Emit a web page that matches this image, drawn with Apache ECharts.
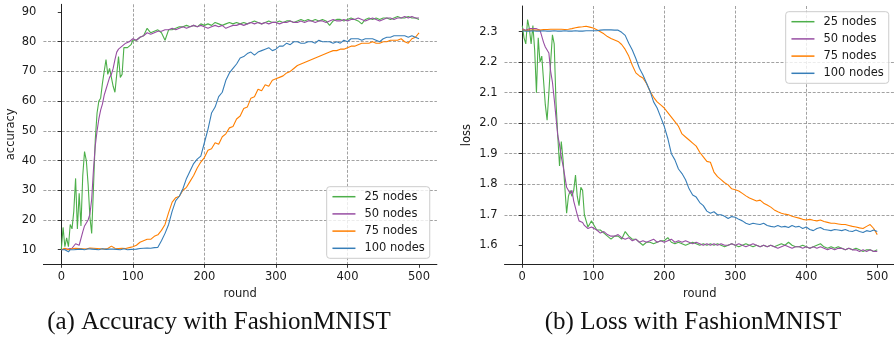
<!DOCTYPE html>
<html>
<head>
<meta charset="utf-8">
<script src="https://cdn.jsdelivr.net/npm/echarts@6/dist/echarts.min.js"></script>
<style>
  html, body { margin: 0; padding: 0; background: #fff; }
  #chart { width: 894px; height: 340px; }
</style>
</head>
<body>
<div id="chart"></div>
<script>
// rounds: finer steps in the first 100 rounds, then every 5
const rounds = [
  0, 2.5, 5, 7.5, 10, 12.5, 15, 17.5, 20, 22.5, 25, 27.5, 30, 32.5, 35, 37.5, 40, 42.5, 45, 47.5,
  50, 52.5, 55, 57.5, 60, 62.5, 65, 67.5, 70, 72.5, 75, 77.5, 80, 82.5, 85, 87.5, 90, 92.5, 95, 97.5, 100,
  105, 110, 115, 120, 125, 130, 135, 140, 145, 150, 155, 160, 165, 170, 175, 180, 185, 190, 195,
  200, 205, 210, 215, 220, 225, 230, 235, 240, 245, 250, 255, 260, 265, 270, 275, 280, 285, 290, 295,
  300, 305, 310, 315, 320, 325, 330, 335, 340, 345, 350, 355, 360, 365, 370, 375, 380, 385, 390, 395,
  400, 405, 410, 415, 420, 425, 430, 435, 440, 445, 450, 455, 460, 465, 470, 475, 480, 485, 490, 495,
  500
];
const seriesNames = ['25 nodes', '50 nodes', '75 nodes', '100 nodes'];
const colors = ['#4daf4a', '#984ea3', '#ff7f00', '#377eb8'];

// accuracy (a)
const acc25 = [
  10, 17.5, 11, 14, 11, 18.5, 17, 23, 34, 17, 29, 18, 35, 43, 40, 32, 21, 15.5, 31, 47,
  56, 60, 61, 66, 70, 74, 69, 71, 68, 65, 63, 69, 75, 68, 69, 78, 77.5, 78, 77.5, 79, 80.5,
  80.5, 81.5, 82, 84.5, 83, 83.5, 84, 83, 80.5, 84, 84, 84.5, 85, 85, 85.5, 85, 85.5, 85, 86,
  85.5, 86, 85.5, 86.5, 86, 85.5, 86, 86.5, 86, 86.5, 86, 86.5, 86, 86.5, 87, 86.5, 86, 86.5, 87, 86.5,
  86.5, 87, 86.5, 87, 87, 86.5, 87, 87.5, 87, 87.5, 87, 87.5, 87, 87.5, 87, 85.5, 87, 87.5, 87.5, 87,
  87.5, 88, 87.5, 87, 86, 87.5, 88, 87.5, 88, 87.5, 88, 88, 87.5, 88, 88.5, 88, 88, 88.5, 88, 88,
  87.5
];
const acc50 = [
  10, 10, 10.2, 10, 10.3, 10, 10.5, 10.5, 12, 12, 11.5, 12, 16, 18, 17.5, 20, 22, 27, 37, 45,
  50, 54, 57, 59, 62, 64, 66, 68, 69, 71, 74, 76.5, 77.5, 78, 78.5, 79, 79.5, 80, 80, 80.5, 81,
  80.5, 81.5, 82, 83, 82.5, 83, 83.5, 83.5, 84, 84, 84.5, 84, 84.5, 85, 84.5, 85, 85.5, 85, 85.5,
  85, 84.5, 85, 85.5, 85, 85.5, 84.5, 85, 85.5, 85.5, 86, 85.5, 86, 86.5, 86, 86.5, 86, 86.5, 86, 86.5,
  86.5, 86, 86.5, 86.5, 87, 86.5, 86.5, 87, 86.5, 87, 87, 86.5, 87, 87, 86.5, 87, 87.5, 87, 87, 87.5,
  87, 87.5, 87.5, 88, 87.5, 87, 87.5, 88, 87.5, 87, 87.5, 88, 88, 87.5, 88, 88, 88.5, 88, 88.5, 88,
  88
];
const acc75 = [
  10, 10.3, 10.5, 10.2, 10, 10.6, 10.3, 10.1, 10.5, 10.2, 10.4, 10.8, 10.3, 10.5, 10.2, 10.4, 10.6, 10.3, 10.5, 10.2,
  10.4, 10.7, 10.3, 10.5, 10.2, 10.6, 10.4, 10.3, 11.2, 10.6, 10.5, 10.3, 10.4, 10.2, 10.5, 10.6, 10.4, 10.5, 10.7, 10.6, 11,
  11.5, 12.5, 13, 13.5, 13.5, 14.5, 15, 16.5, 18.5, 22.5, 26, 27.5, 28, 30, 31, 33, 35, 37.5, 39.5,
  41, 43.5, 44, 46, 45.5, 48, 49, 51, 51.5, 54, 55, 57.5, 58, 61, 61.5, 64, 63.5, 65.5, 65, 67,
  67.5, 68, 68.5, 69.5, 70, 71, 72, 72.5, 73, 73.5, 74, 74.5, 75, 75.5, 76, 76.5, 77, 77, 77.5, 77.5,
  78, 78.5, 78.5, 79, 79.5, 79.5, 79.5, 80, 79.5, 79.5, 80, 80, 80.5, 80.5, 80.5, 81, 80, 79.5, 81, 81.5,
  83
];
const acc100 = [
  10, 10.2, 10, 9.8, 9.3, 10, 10.2, 10, 10.3, 10.1, 10, 10.2, 10.4, 10, 10.1, 10.3, 10.5, 10.2, 10, 10.1,
  10.2, 10, 10.1, 10.3, 10.4, 10.1, 10, 10.2, 10.6, 10.2, 10, 10.1, 10.2, 10, 10.1, 10.3, 10.1, 10, 10.2, 10.1, 10.3,
  10.2, 10.4, 10.5, 10.6, 10.5, 10.7, 10.8, 13, 15.5, 18.5, 23, 26.5, 28, 30.5, 34, 36.5, 39, 40.5, 41.5,
  46, 50.5, 56, 58, 61.5, 63, 67, 69.5, 71, 72.5, 74.5, 75, 76, 76.5, 75.5, 76.5, 77, 77.5, 78, 77,
  77.5, 78.5, 78.5, 79.5, 79, 80, 80, 79.5, 79.5, 80, 80, 79.5, 80.5, 80, 80, 80, 79.5, 80, 79.5, 80.5,
  80, 81, 81, 81, 80.5, 81, 81, 81, 80.5, 80, 81, 81.5, 81.5, 82, 82, 82, 82, 81.5, 82, 81.5,
  81
];

// loss (b)
const loss25 = [
  2.32, 2.28, 2.26, 2.34, 2.31, 2.26, 2.32, 2.24, 2.10, 2.28, 2.20, 2.22, 2.14, 2.06, 2.01, 2.10, 2.20, 2.29, 2.26, 2.07,
  1.96, 1.86, 1.94, 1.88, 1.79, 1.705, 1.76, 1.78, 1.76, 1.78, 1.83, 1.76, 1.73, 1.79, 1.78, 1.70, 1.68, 1.66, 1.67, 1.68, 1.67,
  1.65, 1.65, 1.64, 1.63, 1.62, 1.63, 1.63, 1.62, 1.645, 1.63, 1.62, 1.62, 1.61, 1.60, 1.61, 1.61, 1.605, 1.61, 1.615,
  1.615, 1.625, 1.61, 1.605, 1.61, 1.605, 1.60, 1.605, 1.61, 1.605, 1.60, 1.605, 1.60, 1.605, 1.60, 1.605, 1.60, 1.595, 1.60, 1.605,
  1.60, 1.595, 1.60, 1.605, 1.60, 1.595, 1.60, 1.595, 1.60, 1.595, 1.60, 1.595, 1.60, 1.605, 1.60, 1.61, 1.60, 1.595, 1.595, 1.60,
  1.595, 1.59, 1.595, 1.60, 1.605, 1.595, 1.59, 1.595, 1.59, 1.595, 1.59, 1.585, 1.59, 1.585, 1.59, 1.585, 1.58, 1.585, 1.585, 1.58,
  1.585
];
const loss50 = [
  2.31, 2.31, 2.305, 2.31, 2.31, 2.305, 2.31, 2.305, 2.31, 2.31, 2.305, 2.31, 2.265, 2.25, 2.245, 2.23, 2.17, 2.135, 2.08, 2.02,
  1.96, 1.93, 1.89, 1.86, 1.825, 1.79, 1.79, 1.77, 1.78, 1.745, 1.745, 1.70, 1.68, 1.675, 1.675, 1.665, 1.66, 1.655, 1.655, 1.66, 1.655,
  1.65, 1.64, 1.645, 1.635, 1.63, 1.63, 1.635, 1.625, 1.62, 1.625, 1.615, 1.62, 1.61, 1.615, 1.61, 1.615, 1.62, 1.61, 1.615,
  1.61, 1.615, 1.62, 1.61, 1.615, 1.61, 1.615, 1.61, 1.605, 1.61, 1.605, 1.60, 1.605, 1.60, 1.605, 1.60, 1.605, 1.60, 1.60, 1.605,
  1.60, 1.605, 1.60, 1.595, 1.60, 1.605, 1.60, 1.595, 1.60, 1.595, 1.60, 1.595, 1.59, 1.595, 1.60, 1.595, 1.59, 1.595, 1.595, 1.59,
  1.595, 1.59, 1.595, 1.59, 1.595, 1.59, 1.585, 1.59, 1.585, 1.59, 1.59, 1.585, 1.59, 1.585, 1.585, 1.58, 1.585, 1.58, 1.585, 1.58,
  1.58
];
const loss75 = [
  2.305, 2.306, 2.304, 2.306, 2.305, 2.307, 2.305, 2.306, 2.305, 2.307, 2.305, 2.306, 2.307, 2.308, 2.307, 2.306, 2.308, 2.307, 2.308, 2.307,
  2.308, 2.307, 2.308, 2.309, 2.307, 2.306, 2.308, 2.309, 2.31, 2.311, 2.313, 2.314, 2.315, 2.316, 2.316, 2.317, 2.318, 2.316, 2.315, 2.314, 2.312,
  2.306, 2.30, 2.293, 2.284, 2.278, 2.273, 2.268, 2.258, 2.242, 2.22, 2.19, 2.165, 2.155, 2.148, 2.13, 2.105, 2.085, 2.07, 2.06,
  2.05, 2.035, 2.02, 2.005, 1.99, 1.965, 1.955, 1.945, 1.935, 1.925, 1.905, 1.89, 1.875, 1.872, 1.84, 1.825, 1.815, 1.805, 1.798, 1.785,
  1.782, 1.778, 1.77, 1.762, 1.755, 1.75, 1.745, 1.748, 1.738, 1.732, 1.725, 1.716, 1.71, 1.705, 1.702, 1.70, 1.695, 1.692, 1.689, 1.685,
  1.683, 1.685, 1.682, 1.68, 1.683, 1.678, 1.675, 1.672, 1.672, 1.67, 1.668, 1.668, 1.665, 1.662, 1.66, 1.657, 1.655, 1.662, 1.668, 1.655,
  1.635
];
const loss100 = [
  2.303, 2.302, 2.302, 2.303, 2.302, 2.302, 2.303, 2.302, 2.302, 2.303, 2.302, 2.302, 2.303, 2.302, 2.302, 2.303, 2.302, 2.302, 2.303, 2.302,
  2.302, 2.303, 2.302, 2.302, 2.303, 2.302, 2.302, 2.303, 2.302, 2.302, 2.303, 2.302, 2.302, 2.303, 2.302, 2.303, 2.303, 2.302, 2.303, 2.303, 2.303,
  2.303, 2.305, 2.306, 2.306, 2.306, 2.305, 2.305, 2.298, 2.288, 2.262, 2.24, 2.212, 2.18, 2.158, 2.132, 2.105, 2.07, 2.05, 2.02,
  1.99, 1.95, 1.90, 1.88, 1.85, 1.835, 1.815, 1.785, 1.765, 1.758, 1.74, 1.73, 1.712, 1.705, 1.71, 1.70, 1.70, 1.695, 1.688, 1.694,
  1.692, 1.685, 1.68, 1.672, 1.668, 1.672, 1.67, 1.668, 1.672, 1.665, 1.662, 1.66, 1.665, 1.66, 1.662, 1.658, 1.665, 1.66, 1.662, 1.655,
  1.66, 1.652, 1.648, 1.655, 1.658, 1.652, 1.65, 1.648, 1.652, 1.65, 1.648, 1.652, 1.647, 1.645, 1.65, 1.645, 1.642, 1.648, 1.645, 1.65,
  1.645
];

const roundTicks = [0, 100, 200, 300, 400, 500];
const accTicks = [10, 20, 30, 40, 50, 60, 70, 80, 90];
const lossTicks = [1.6, 1.7, 1.8, 1.9, 2.0, 2.1, 2.2, 2.3];

const FONT = 'DejaVu Sans';
const TXT = '#1a1a1a';

const pairs = vals => rounds.map((r, i) => [r, vals[i]]);

const xAxisBase = (gridIndex) => ({
  type: 'value',
  gridIndex: gridIndex,
  min: -25,
  max: 525,
  splitNumber: 5,
  name: 'round',
  nameLocation: 'middle',
  nameGap: 22,
  nameTextStyle: { fontFamily: FONT, fontSize: 11.5, color: TXT },
  axisLine: { show: true, onZero: false, lineStyle: { color: '#222', width: 1 } },
  axisTick: { show: true, length: 3.5, customValues: roundTicks, lineStyle: { color: '#222', width: 0.9 } },
  axisLabel: { margin: 7, customValues: roundTicks, fontFamily: FONT, fontSize: 11.5, color: TXT },
  splitLine: {
    show: true, showMinLine: false, showMaxLine: false,
    lineStyle: { color: '#8a8a8a', width: 0.8, type: [3, 1.6] },
  },
});

const yAxisBase = (gridIndex, name, min, max, ticks, gap, fmt) => ({
  type: 'value',
  gridIndex: gridIndex,
  min: min,
  max: max,
  splitNumber: 8,
  name: name,
  nameLocation: 'middle',
  nameGap: gap,
  nameTextStyle: { fontFamily: FONT, fontSize: 11.5, color: TXT },
  axisLine: { show: true, lineStyle: { color: '#222', width: 1 } },
  axisTick: { show: true, length: 3.5, customValues: ticks, lineStyle: { color: '#222', width: 0.9 } },
  axisLabel: { margin: 7, customValues: ticks, fontFamily: FONT, fontSize: 11.5, color: TXT, formatter: fmt },
  splitLine: {
    show: true, showMinLine: false, showMaxLine: false,
    lineStyle: { color: '#8a8a8a', width: 0.8, type: [3, 1.6] },
  },
});

const accData = [acc25, acc50, acc75, acc100];
const lossData = [loss25, loss50, loss75, loss100];

const series = [];
accData.forEach((vals, i) => {
  series.push({
    type: 'line', name: seriesNames[i], xAxisIndex: 0, yAxisIndex: 0,
    data: pairs(vals), showSymbol: false, symbol: 'none',
    lineStyle: { width: 1.1, color: colors[i] }, itemStyle: { color: colors[i] },
  });
});
lossData.forEach((vals, i) => {
  series.push({
    type: 'line', name: seriesNames[i], xAxisIndex: 1, yAxisIndex: 1,
    data: pairs(vals), showSymbol: false, symbol: 'none',
    lineStyle: { width: 1.1, color: colors[i] }, itemStyle: { color: colors[i] },
  });
});

// legend: line handle only, the marker in the middle is hidden
const legendBase = (left, top) => ({
  orient: 'vertical',
  left: left,
  top: top,
  align: 'left',
  data: seriesNames,
  itemWidth: 23,
  itemHeight: 8,
  itemGap: 3.2,
  padding: [3, 5, 3, 5],
  backgroundColor: 'rgba(255,255,255,0.8)',
  borderColor: '#cccccc',
  borderWidth: 1,
  borderRadius: 3,
  selectedMode: false,
  itemStyle: { opacity: 0 },
  lineStyle: { width: 1.5 },
  textStyle: { fontFamily: FONT, fontSize: 11.5, color: TXT, lineHeight: 14, padding: [0, 0, 0, 4] },
});

const option = {
  animation: false,
  backgroundColor: '#ffffff',
  grid: [
    { left: 43.4, top: 4.3, width: 393.5, height: 260, outerBoundsMode: 'none', containLabel: false },
    { left: 504.5, top: 6, width: 390.5, height: 258.3, outerBoundsMode: 'none', containLabel: false },
  ],
  xAxis: [xAxisBase(0), xAxisBase(1)],
  yAxis: [
    yAxisBase(0, 'accuracy', 5.09, 92.59, accTicks, 26, v => String(v)),
    yAxisBase(1, 'loss', 1.5377, 2.3842, lossTicks, 31, v => Number(v).toFixed(1)),
  ],
  legend: [legendBase(326.7, 186.7), legendBase(785.7, 11.7)],
  series: series,
  graphic: [
    {
      type: 'text', x: 219, y: 322, silent: true,
      style: { text: '(a) Accuracy with FashionMNIST', fill: '#111',
        font: '25px "Liberation Serif"', align: 'center', verticalAlign: 'middle' },
    },
    {
      type: 'text', x: 693, y: 322, silent: true,
      style: { text: '(b) Loss with FashionMNIST', fill: '#111',
        font: '25px "Liberation Serif"', align: 'center', verticalAlign: 'middle' },
    },
  ],
};

const myChart = echarts.init(document.getElementById('chart'), null, { renderer: 'canvas' });
myChart.setOption(option);
</script>
</body>
</html>
